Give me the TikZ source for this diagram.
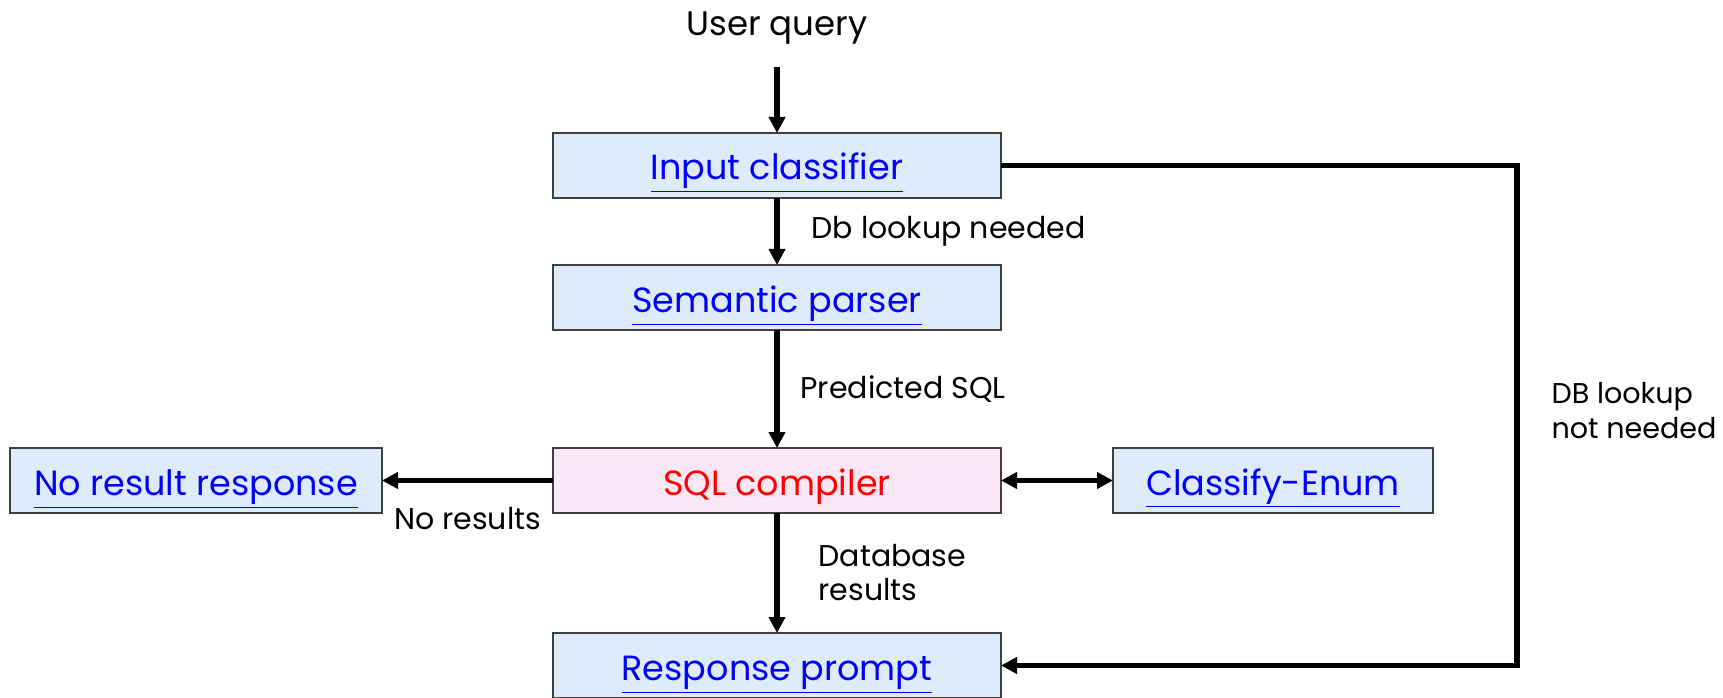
\documentclass[tikz,border=0pt]{standalone}
\usepackage{fontspec}
\setmainfont{Poppins}
\usepackage{tikz}
\usetikzlibrary{positioning,arrows.meta}
\definecolor{BoxBlue}{RGB}{222, 235, 250}
\definecolor{BoxPink}{RGB}{251, 231, 246}
\definecolor{LinkBlue}{RGB}{0, 0, 255}
\newcommand{\linktext}[1]{\underline{#1}}

\tikzset{
  flowbox/.style={draw=black!75, line width=0.8pt, fill=BoxBlue, rectangle, inner sep=0pt, outer sep=0pt,
    minimum width=224pt, minimum height=32.5pt, text height=14.5pt, text depth=0pt,
    text=LinkBlue, font=\fontsize{17.5}{21}\selectfont},
  flowline/.style={line width=2.6pt},
  labeltext/.style={inner sep=0pt, font=\fontsize{15}{17}\selectfont}
}

\begin{document}
\begin{tikzpicture}[x=0.5pt, y=0.5pt, node distance=33.5pt, >={Stealth[inset=0pt, length=8pt, width=8pt]}]
    \useasboundingbox (0,0) rectangle (1723,697);
    % Nodes
    \node [flowbox] (classifier) at (777,531.5) {\linktext{Input classifier}};
    \node [flowbox, below=of classifier] (parser) {\linktext{Semantic parser}};
    \node [flowbox, fill=BoxPink, text=red, below=59pt of parser] (compiler) {SQL compiler};
    \node [flowbox, below=60pt of compiler] (prompt) {\linktext{Response prompt}};
    \node [flowbox, minimum width=186pt, left=85.5pt of compiler] (noresult) {\linktext{No result response}};
    \node [flowbox, minimum width=160pt, right=56pt of compiler] (enum) {\linktext{Classify-Enum}};
    \node [inner xsep=0pt, inner ysep=15.5pt, text depth=0pt, font=\fontsize{17}{21}\selectfont, above=33pt of classifier] (query) {User query};

    % Paths
    \draw[->, flowline] (query) -- (classifier);
    \draw[->, flowline] (classifier) -- node[labeltext, right=16pt]{Db lookup needed} (parser);
    \draw[->, flowline] (parser) -- node[labeltext, right=10.5pt]{Predicted SQL} (compiler);
    \draw[->, flowline] (compiler) -- node[labeltext, right=19.5pt, align=left]{Database\\results} (prompt);
    \draw[->, flowline] (compiler) -- node[labeltext, below=12pt]{No results} (noresult);
    \draw[<->, flowline] (compiler) -- (enum);
    \draw[->, flowline] (classifier.east) -- ++(516,0) |- node[labeltext, pos=0.245, right=16pt, align=left, font=\fontsize{14.3}{17.5}\selectfont]{DB lookup\\not needed} (prompt);
  \end{tikzpicture}
\end{document}
